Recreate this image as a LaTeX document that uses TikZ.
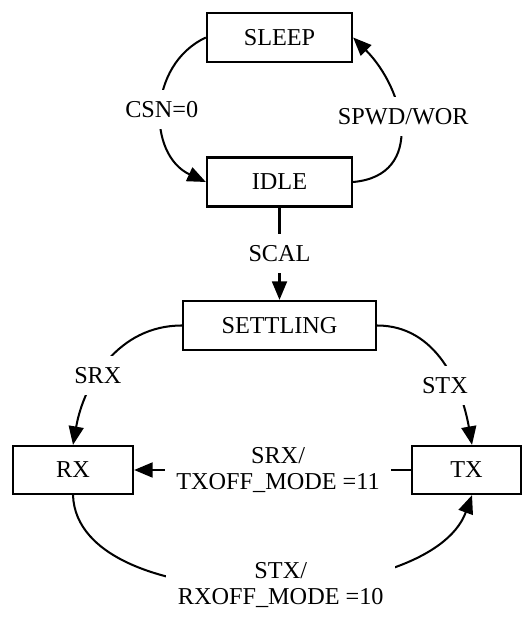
\documentclass[tikz,border=0pt]{standalone}
\usepackage{fontspec}
\setmainfont{Liberation Serif}
\usetikzlibrary{arrows.meta}

\tikzset{
  state/.style={draw, line width=1.3pt, minimum height=0.98cm, inner sep=0pt},
  lbl/.style={fill=white, inner sep=6.5pt, align=center},
  >={Triangle[length=10.5pt,width=8.5pt]}
}

\begin{document}
\begin{tikzpicture}[font=\fontsize{13.8}{14.5}\selectfont, line width=1.15pt]
  \useasboundingbox (0,0) rectangle (10.44,12.36);

  \node[state, minimum width=2.9cm] (sleep) at (5.59, 11.61) {SLEEP};
  \node[state, minimum width=2.9cm] (idle) at (5.59, 8.72) {IDLE};
  \node[state, minimum width=3.86cm] (settling) at (5.59, 5.85) {SETTLING};
  \node[state, minimum width=2.4cm, minimum height=0.96cm] (rx) at (1.46, 2.96) {RX};
  \node[state, minimum width=2.18cm, minimum height=0.96cm] (tx) at (9.33, 2.96) {TX};

  \draw[->] (sleep.west) to[out=205, in=155, looseness=1.15] node[lbl] {CSN=0} (idle.west);
  \draw[->] (idle.east) to[out=5, in=-45, looseness=1.3] node[lbl, pos=0.56, xshift=0.1cm] {SPWD/WOR} (sleep.east);
  \draw[->] (idle.south) -- node[lbl] {SCAL} (settling.north);
  \draw[->] (settling.west) to[out=180, in=80] node[lbl, pos=0.6] {SRX} (rx.north);
  \draw[->] (settling.east) to[out=0, in=100] node[lbl, pos=0.65, xshift=-0.2cm] {STX} ([xshift=0.11cm]tx.north);
  \draw[->] (tx.west) -- node[lbl, pos=0.48] {SRX/\\TXOFF\_MODE =11} (rx.east);
  \draw[->] (rx.south) to[out=-88, in=-110, looseness=0.8] node[lbl, pos=0.54] {STX/\\RXOFF\_MODE =10} ([xshift=0.11cm]tx.south);
\end{tikzpicture}
\end{document}
